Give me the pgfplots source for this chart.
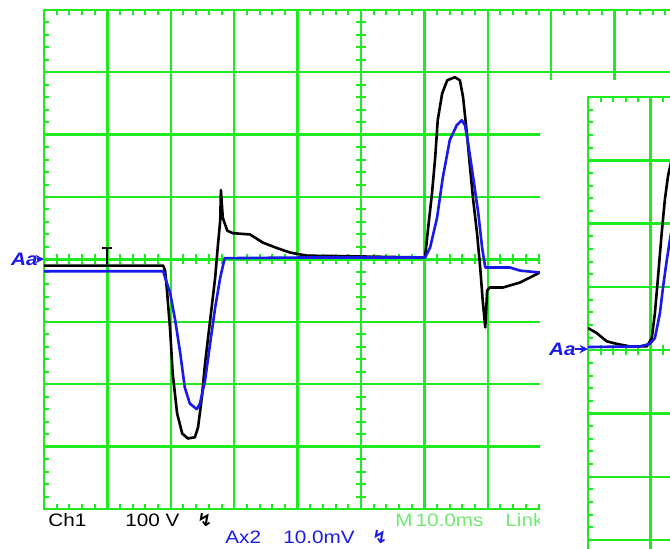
\documentclass[border=0pt]{standalone}
\usepackage{pgfplots}
\pgfplotsset{compat=1.18}
\usepackage{fontspec}
\setmainfont{Liberation Sans}
\newfontfamily\scopefont[FakeStretch=1.15]{Liberation Sans}
\newfontfamily\symfont{DejaVu Sans}
\definecolor{scgreen}{RGB}{30,235,30}
\definecolor{lgreen}{RGB}{110,235,110}
\definecolor{trblue}{RGB}{25,25,235}
\pgfplotsset{
 scopegrid/.style={scale only axis, xmin=0,xmax=10,ymin=-4,ymax=4,
   xtick distance=1, ytick distance=1, minor x tick num=4, minor y tick num=4,
   xticklabels={}, yticklabels={}, grid=major,
   major grid style={scgreen, line width=1.2pt},
   axis line style={scgreen, line width=1.2pt},
   tick style={scgreen, line width=1pt}, tick align=inside,
   major tick length=0pt, minor tick length=2.5pt},
 crosshair/.style={scale only axis, xmin=-5,xmax=5,ymin=-4,ymax=4,
   axis lines=middle, axis line style={scgreen, line width=1.2pt, -},
   xtick distance=1, ytick distance=1, minor x tick num=4, minor y tick num=4,
   xticklabels={}, yticklabels={},
   tick style={scgreen, line width=1pt}, tick align=center,
   major tick length=0pt, minor tick length=5pt},
 traces/.style={scale only axis, xmin=0,xmax=10,ymin=-4,ymax=4, hide axis},
}
\begin{document}
\begin{tikzpicture}
\useasboundingbox (0,0) rectangle (335pt,274pt);
\clip (0,0) rectangle (335pt,274pt);
% ---------- left screen ----------
\begin{axis}[scopegrid, at={(22pt,19.5pt)}, anchor=south west, width=317pt, height=249.6pt]
\end{axis}
\begin{axis}[crosshair, at={(22pt,19.5pt)}, anchor=south west, width=317pt, height=249.6pt]
\end{axis}
\begin{axis}[traces, at={(22pt,19.5pt)}, anchor=south west, width=317pt, height=249.6pt]
% Ch1 (black)
\addplot[black, line width=1.3pt, line join=round] coordinates {
(0,-0.10) (0.99,-0.10) (1.88,-0.10) (1.91,-0.18) (1.94,-0.50) (1.99,-1.14)
(2.03,-1.83) (2.10,-2.47) (2.18,-2.79) (2.27,-2.87) (2.38,-2.85) (2.43,-2.69)
(2.49,-2.21) (2.54,-1.67) (2.62,-0.98) (2.70,-0.29) (2.74,0.19) (2.78,0.63)
(2.79,1.11) (2.82,0.67) (2.89,0.46) (2.98,0.42) (3.25,0.40) (3.45,0.27)
(3.68,0.18) (3.88,0.11) (4.15,0.06) (4.83,0.05) (6.01,0.03) (6.06,0.51)
(6.12,1.06) (6.17,1.63) (6.21,2.23) (6.28,2.66) (6.36,2.87) (6.48,2.92)
(6.56,2.87) (6.61,2.60) (6.67,2.02) (6.72,1.47) (6.77,0.95) (6.83,0.42)
(6.88,-0.13) (6.92,-0.66) (6.96,-1.09) (6.99,-0.50) (7.03,-0.45) (7.24,-0.45)
(7.51,-0.37) (7.82,-0.21)};
% Ax2 (blue)
\addplot[trblue, line width=1.3pt, line join=round] coordinates {
(0,-0.19) (1.88,-0.19) (1.91,-0.29) (1.99,-0.54) (2.07,-0.98) (2.15,-1.51)
(2.22,-2.05) (2.30,-2.31) (2.41,-2.40) (2.46,-2.31) (2.54,-1.94) (2.62,-1.35)
(2.70,-0.77) (2.78,-0.29) (2.85,0.02) (4.04,0.03) (6.01,0.03) (6.09,0.19)
(6.20,0.67) (6.29,1.31) (6.40,1.91) (6.51,2.15) (6.59,2.23) (6.64,2.15)
(6.69,1.86) (6.77,1.31) (6.85,0.74) (6.91,0.19) (6.96,-0.13) (7.00,-0.13)
(7.35,-0.13) (7.51,-0.18) (7.82,-0.21)};
% trigger marker
\addplot[black, line width=1.1pt] coordinates {(0.91,0.18) (1.07,0.18)};
\addplot[black, line width=1.1pt] coordinates {(0.99,0.18) (0.99,-0.08)};
\end{axis}
% readouts
\node[anchor=west, inner sep=0pt, font=\scopefont\fontsize{9}{9}\selectfont] at (24pt,14pt) {Ch1};
\node[anchor=west, inner sep=0pt, font=\scopefont\fontsize{9}{9}\selectfont] at (62.5pt,14pt) {100 V};
\node[anchor=west, inner sep=0pt, font=\symfont\bfseries\fontsize{9}{9}\selectfont] at (98.5pt,14pt) {↯};
\node[anchor=west, inner sep=0pt, text=lgreen, font=\scopefont\fontsize{9}{9}\selectfont] at (197.5pt,14pt) {M\,10.0ms};
\node[anchor=west, inner sep=0pt, text=lgreen, font=\scopefont\fontsize{9}{9}\selectfont] at (252.5pt,14pt) {Link};
\node[anchor=west, inner sep=0pt, text=trblue, font=\scopefont\fontsize{9}{9}\selectfont] at (112.5pt,5.5pt) {Ax2};
\node[anchor=west, inner sep=0pt, text=trblue, font=\scopefont\fontsize{9}{9}\selectfont] at (141.5pt,5.5pt) {10.0mV};
\node[anchor=west, inner sep=0pt, text=trblue, font=\symfont\bfseries\fontsize{9}{9}\selectfont] at (186pt,5.5pt) {↯};
\node[anchor=east, inner sep=0pt, text=trblue, font=\scopefont\bfseries\itshape\fontsize{9}{9}\selectfont] at (19pt,144.5pt) {Aa};
\draw[trblue, line width=0.9pt, -stealth] (18.5pt,144.5pt) -- (22pt,144.5pt);
% ---------- second screen (overlapping) ----------
\fill[white] (270pt,-1pt) rectangle (340pt,234pt);
\begin{axis}[scopegrid, at={(294pt,225.5pt)}, anchor=north west, width=312.5pt, height=253.2pt]
\end{axis}
\begin{axis}[crosshair, at={(294pt,225.5pt)}, anchor=north west, width=312.5pt, height=253.2pt]
\end{axis}
\begin{axis}[traces, at={(294pt,225.5pt)}, anchor=north west, width=312.5pt, height=253.2pt]
\addplot[black, line width=1.3pt, line join=round] coordinates {
(0,0.35) (0.14,0.27) (0.30,0.14) (0.46,0.10) (0.67,0.06) (0.94,0.06)
(1.02,0.19) (1.07,0.58) (1.12,1.15) (1.18,1.86) (1.23,2.38) (1.28,2.75) (1.34,3.02)};
\addplot[trblue, line width=1.3pt, line join=round] coordinates {
(0,0.05) (0.83,0.06) (0.99,0.10) (1.07,0.19) (1.15,0.58) (1.20,0.99)
(1.26,1.42) (1.31,1.74) (1.38,2.14)};
\end{axis}
\node[anchor=east, inner sep=0pt, text=trblue, font=\scopefont\bfseries\itshape\fontsize{9}{9}\selectfont] at (288pt,99.5pt) {Aa};
\draw[trblue, line width=0.9pt, -stealth] (287.5pt,99.5pt) -- (294pt,99.5pt);
\end{tikzpicture}
\end{document}
